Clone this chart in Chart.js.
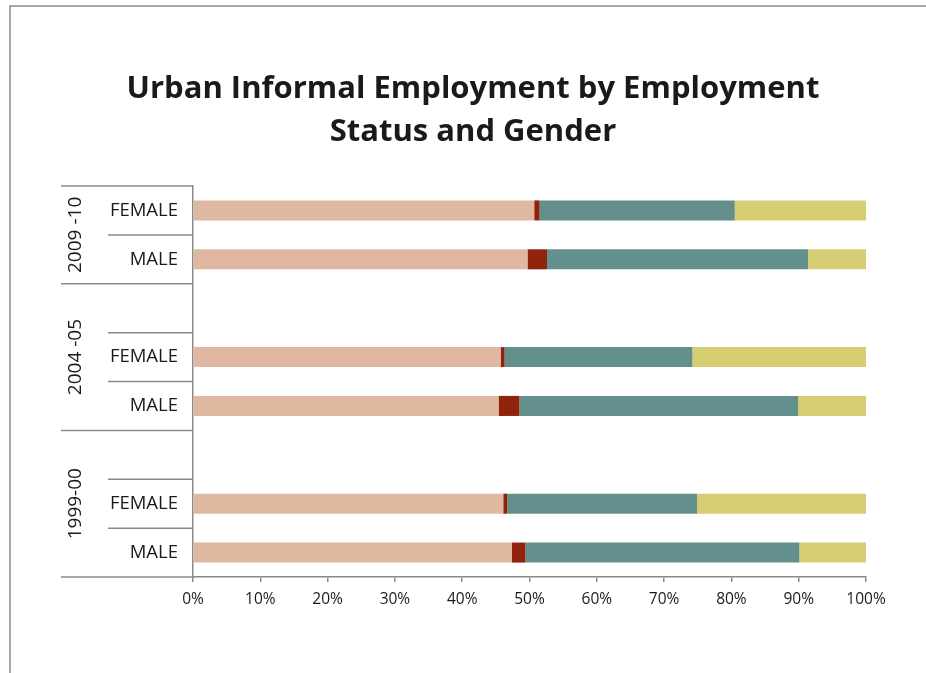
<!DOCTYPE html>
<html>
<head>
<meta charset="utf-8">
<script src="https://cdn.jsdelivr.net/npm/chart.js@4/dist/chart.umd.min.js"></script>
<style>
  html, body { margin: 0; padding: 0; background: #ffffff; }
  canvas { display: block; }
</style>
</head>
<body>
<canvas id="c" width="926" height="673"></canvas>
<script>
// Rows top to bottom; empty strings are spacer rows between survey rounds
const rowLabels = ['FEMALE', 'MALE', '', 'FEMALE', 'MALE', '', 'FEMALE', 'MALE'];
// Survey rounds and the rows each one spans (first index, last index)
const groupLabels = ['2009 -10', '2004 -05', '1999-00'];
const groupSpans = [[0, 1], [2, 4], [5, 7]];

// Shares of urban informal employment (%) by employment status
const selfEmployed = [50.7, 49.7, null, 45.7, 45.4, null, 46.1, 47.4];
const employers    = [0.8, 2.9, null, 0.6, 3.1, null, 0.6, 2.0];
const regularWage  = [29.0, 38.8, null, 27.9, 41.4, null, 28.2, 40.7];
const casualLabour = [19.5, 8.6, null, 25.8, 10.1, null, 25.1, 9.9];

const xTicks = [0, 10, 20, 30, 40, 50, 60, 70, 80, 90, 100];

const titleLines = ['Urban Informal Employment by Employment', 'Status and Gender'];

const FONT = '"Open Sans", "Liberation Sans", sans-serif';
const AXIS_GREY = '#8a8a8a';

// Frame, title and the grouped category labels on the left
const decorations = {
  id: 'decorations',
  beforeDraw(chart) {
    const ctx = chart.ctx;
    ctx.save();
    ctx.fillStyle = '#ffffff';
    ctx.fillRect(0, 0, chart.width, chart.height);
    ctx.strokeStyle = AXIS_GREY;
    ctx.lineWidth = 1.5;
    ctx.beginPath();
    ctx.moveTo(10, chart.height);
    ctx.lineTo(10, 6);
    ctx.lineTo(chart.width, 6);
    ctx.stroke();
    ctx.restore();
  },
  afterDraw(chart) {
    const ctx = chart.ctx;
    const y = chart.scales.y;
    const area = chart.chartArea;
    ctx.save();
    // title
    ctx.fillStyle = '#1a1a1a';
    ctx.font = 'bold 31px ' + FONT;
    ctx.textAlign = 'center';
    ctx.textBaseline = 'alphabetic';
    ctx.fillText(titleLines[0], 473, 98);
    ctx.fillText(titleLines[1], 473, 141);

    const half = (y.getPixelForValue(1) - y.getPixelForValue(0)) / 2;
    ctx.strokeStyle = AXIS_GREY;
    ctx.lineWidth = 1.5;
    // row separators; longer ones mark the start of each round
    for (let i = 0; i < rowLabels.length; i++) {
      const top = y.getPixelForValue(i) - half;
      const isGroupEdge = groupSpans.some(s => s[0] === i);
      ctx.beginPath();
      ctx.moveTo(isGroupEdge ? 61 : 108, top);
      ctx.lineTo(area.left, top);
      ctx.stroke();
    }
    const bottom = y.getPixelForValue(rowLabels.length - 1) + half;
    ctx.beginPath();
    ctx.moveTo(61, bottom);
    ctx.lineTo(area.left, bottom);
    ctx.stroke();

    // rotated round labels
    ctx.fillStyle = '#1a1a1a';
    ctx.font = '19px ' + FONT;
    ctx.textAlign = 'center';
    ctx.textBaseline = 'middle';
    groupLabels.forEach((lab, g) => {
      const s = groupSpans[g];
      const top = y.getPixelForValue(s[0]) - half;
      const bot = y.getPixelForValue(s[1]) + half;
      ctx.save();
      ctx.translate(76, (top + bot) / 2);
      ctx.rotate(-Math.PI / 2);
      ctx.fillText(lab, 0, 0);
      ctx.restore();
    });
    ctx.restore();
  }
};

new Chart(document.getElementById('c'), {
  type: 'bar',
  data: {
    labels: rowLabels,
    datasets: [
      { label: 'Self-employed', data: selfEmployed, backgroundColor: '#e0b8a1' },
      { label: 'Employers', data: employers, backgroundColor: '#8f230b' },
      { label: 'Regular wage', data: regularWage, backgroundColor: '#638f8c' },
      { label: 'Casual labour', data: casualLabour, backgroundColor: '#d7cd73' }
    ]
  },
  options: {
    indexAxis: 'y',
    responsive: false,
    animation: false,
    devicePixelRatio: 1,
    layout: { padding: { left: 0, top: 186, right: 60, bottom: 56 } },
    datasets: { bar: { barPercentage: 0.41, categoryPercentage: 1 } },
    plugins: {
      legend: { display: false },
      title: { display: false },
      tooltip: { enabled: false }
    },
    scales: {
      x: {
        stacked: true,
        min: 0,
        max: 100,
        afterBuildTicks(scale) { scale.ticks = xTicks.map(v => ({ value: v })); },
        afterFit(scale) { scale.height = 40; },
        border: { display: true, color: AXIS_GREY, width: 1.5 },
        grid: { drawOnChartArea: false, drawTicks: true, tickLength: 5, color: AXIS_GREY, lineWidth: 1.5 },
        ticks: {
          padding: 8,
          color: '#1a1a1a',
          font: { family: FONT, size: 15.5 },
          callback: v => v + '%'
        }
      },
      y: {
        stacked: true,
        afterFit(scale) { scale.width = 193; },
        border: { display: true, color: AXIS_GREY, width: 1.5 },
        grid: { display: false },
        ticks: {
          padding: 7,
          color: '#1a1a1a',
          font: { family: FONT, size: 18.5 }
        }
      }
    }
  },
  plugins: [decorations]
});
</script>
</body>
</html>
